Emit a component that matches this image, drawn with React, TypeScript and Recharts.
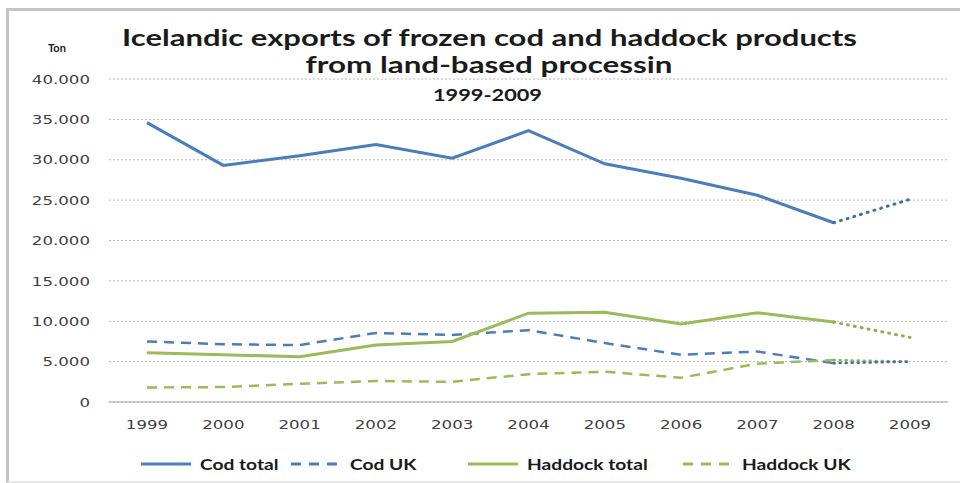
import React from "react";
import { LineChart, Line, XAxis, YAxis, CartesianGrid } from "recharts";

const years = ["1999", "2000", "2001", "2002", "2003", "2004", "2005", "2006", "2007", "2008", "2009"];

// solid parts 1999-2008, 2009 is a projection drawn dotted
const codTotal = [34600, 29300, 30500, 31900, 30200, 33600, 29500, 27700, 25600, 22200, null];
const codUK = [7500, 7150, 7050, 8550, 8300, 8900, 7300, 5850, 6250, 4800, null];
const haddockTotal = [6100, 5850, 5600, 7050, 7500, 11000, 11100, 9650, 11050, 9900, null];
const haddockUK = [1800, 1850, 2250, 2600, 2500, 3450, 3750, 3000, 4750, 5200, null];

const codTotalEst = [null, null, null, null, null, null, null, null, null, 22200, 25100];
const codUKEst = [null, null, null, null, null, null, null, null, null, 4800, 5000];
const haddockTotalEst = [null, null, null, null, null, null, null, null, null, 9900, 8000];
const haddockUKEst = [null, null, null, null, null, null, null, null, null, 5200, 5000];

const yTicks = [0, 5000, 10000, 15000, 20000, 25000, 30000, 35000, 40000];
const seriesNames = ["Cod total", "Cod UK", "Haddock total", "Haddock UK"];

const BLUE = "#4a7ebb";
const GREEN = "#9bbb59";
const SX = 1.28;

const data = years.map((year, i) => ({
  year,
  codTotal: codTotal[i],
  codUK: codUK[i],
  haddockTotal: haddockTotal[i],
  haddockUK: haddockUK[i],
  codTotalEst: codTotalEst[i],
  codUKEst: codUKEst[i],
  haddockTotalEst: haddockTotalEst[i],
  haddockUKEst: haddockUKEst[i],
}));

const fmt = (v: number) => (v === 0 ? "0" : v.toLocaleString("de-DE"));

const YTick = ({ x, y, payload }: any) => (
  <text
    transform={`translate(${x},${y}) scale(${SX},1)`}
    textAnchor="end"
    dy="0.36em"
    fontFamily="DejaVu Sans"
    fontSize={13}
    fill="#404040"
  >
    {fmt(payload.value)}
  </text>
);

const XTick = ({ x, y, payload }: any) => (
  <text
    transform={`translate(${x},${y}) scale(${SX},1)`}
    textAnchor="middle"
    dy="0.71em"
    fontFamily="DejaVu Sans"
    fontSize={13}
    fill="#404040"
  >
    {payload.value}
  </text>
);

const legendItems = [
  { name: seriesNames[0], color: BLUE, dash: undefined, x: 141 },
  { name: seriesNames[1], color: BLUE, dash: "10 8", x: 291 },
  { name: seriesNames[2], color: GREEN, dash: undefined, x: 468 },
  { name: seriesNames[3], color: GREEN, dash: "10 8", x: 683 },
];

export default function App() {
  return (
    <div style={{ position: "absolute", left: 0, top: 0, width: 960, height: 483, background: "#fff", overflow: "hidden" }}>
      <div
        style={{
          position: "absolute",
          left: 6,
          top: 8,
          width: 960,
          height: 470,
          borderTop: "3px solid #c4c4c4",
          borderLeft: "3px solid #c4c4c4",
          borderBottom: "2px solid #e6e6e6",
        }}
      />
      <div style={{ position: "absolute", left: 0, top: 0 }}>
        <LineChart width={960} height={483} data={data} margin={{ top: 79, right: 12, bottom: 51, left: 9 }}>
          <CartesianGrid vertical={false} stroke="#b8b8b8" strokeDasharray="2 2" />
          <XAxis
            dataKey="year"
            height={30}
            padding={{ left: 38, right: 38 }}
            tickLine={false}
            tickSize={0}
            tickMargin={18}
            axisLine={{ stroke: "#a6a6a6" }}
            tick={<XTick />}
            interval={0}
          />
          <YAxis
            width={100}
            domain={[0, 40000]}
            ticks={yTicks}
            axisLine={false}
            tickLine={false}
            tickSize={0}
            tickMargin={19}
            tick={<YTick />}
            interval={0}
          />
          <Line type="linear" dataKey="codTotal" stroke={BLUE} strokeWidth={3} dot={false} isAnimationActive={false} />
          <Line type="linear" dataKey="codUK" stroke={BLUE} strokeWidth={2.5} strokeDasharray="10 7" dot={false} isAnimationActive={false} />
          <Line type="linear" dataKey="haddockTotal" stroke={GREEN} strokeWidth={3} dot={false} isAnimationActive={false} />
          <Line type="linear" dataKey="haddockUK" stroke={GREEN} strokeWidth={2.5} strokeDasharray="10 7" dot={false} isAnimationActive={false} />
          <Line type="linear" dataKey="codTotalEst" stroke="#3f6fa8" strokeWidth={3} strokeDasharray="1 6" strokeLinecap="round" dot={false} isAnimationActive={false} legendType="none" />
          <Line type="linear" dataKey="haddockTotalEst" stroke="#8faf4d" strokeWidth={3} strokeDasharray="1 6" strokeLinecap="round" dot={false} isAnimationActive={false} legendType="none" />
          <Line type="linear" dataKey="haddockUKEst" stroke="#8faf4d" strokeWidth={2.5} strokeDasharray="1 5" strokeLinecap="round" dot={false} isAnimationActive={false} legendType="none" />
          <Line type="linear" dataKey="codUKEst" stroke="#3f6fa8" strokeWidth={2.5} strokeDasharray="1 5" strokeLinecap="round" dot={false} isAnimationActive={false} legendType="none" />
        </LineChart>
      </div>
      <svg width={960} height={483} style={{ position: "absolute", left: 0, top: 0, pointerEvents: "none" }}>
        <g fontFamily="Lato, 'Open Sans', sans-serif" fontWeight="bold" fill="#1a1a1a">
          <text x={489.5} y={46} fontSize={22} textAnchor="middle" textLength={735} lengthAdjust="spacingAndGlyphs">
            Icelandic exports of frozen cod and haddock products
          </text>
          <text x={489} y={73} fontSize={22} textAnchor="middle" textLength={367} lengthAdjust="spacingAndGlyphs">
            from land-based processin
          </text>
          <text x={487.5} y={101} fontSize={17} textAnchor="middle" textLength={109} lengthAdjust="spacingAndGlyphs">
            1999-2009
          </text>
          <text x={57} y={52} fontSize={11} textAnchor="middle">
            Ton
          </text>
        </g>
        {legendItems.map((it) => (
          <g key={it.name}>
            <line x1={it.x} x2={it.x + 50} y1={464} y2={464} stroke={it.color} strokeWidth={3} strokeDasharray={it.dash} />
            <text
              transform={`translate(${it.x + 59},470) scale(1.2,1)`}
              fontFamily="Lato, 'Open Sans', sans-serif"
              fontWeight="bold"
              fontSize={16}
              fill="#1a1a1a"
            >
              {it.name}
            </text>
          </g>
        ))}
      </svg>
    </div>
  );
}
